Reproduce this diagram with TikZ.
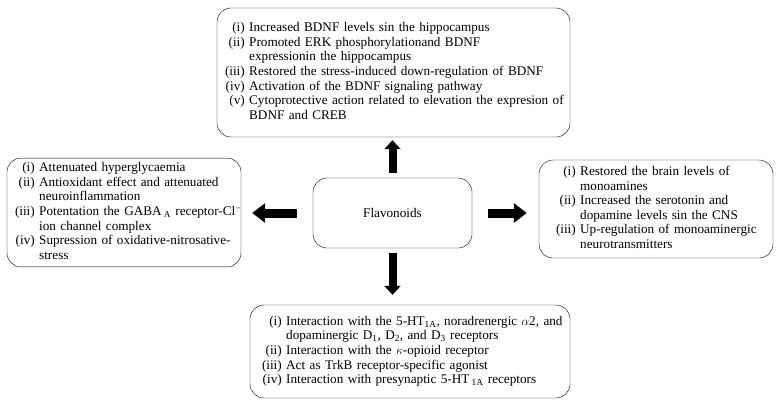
\documentclass[tikz,border=0pt]{standalone}
\usepackage{fontspec}
\setmainfont{Liberation Serif}
\usetikzlibrary{arrows.meta}

\tikzset{
  effbox/.style={draw, rounded corners=14pt, align=left,
    font=\fontsize{13.2}{14.6}\selectfont},
  bigarrow/.style={line width=9pt, -{Triangle[width=19pt,length=13pt]}},
  vbigarrow/.style={line width=8pt, -{Triangle[width=16pt,length=9pt]}},
}

\begin{document}
\begin{tikzpicture}[x=1pt,y=-1pt]
\useasboundingbox (0,0) rectangle (782,408);

\node[draw, rounded corners=14pt, minimum width=159pt, minimum height=70pt,
  font=\fontsize{13.2}{14.6}\selectfont] (flav) at (392.5,213) {Flavonoids};

% top: BDNF
\node[effbox, inner xsep=8pt, text width=337pt, minimum height=129pt] (bdnf) at (393.5,72.5) {%
\begin{tabular}{@{}r@{\ }l@{}}
(i) & Increased BDNF levels sin the hippocampus\\
(ii) & Promoted ERK phosphorylationand BDNF\\
 & expressionin the hippocampus\\
(iii) & Restored the stress-induced down-regulation of BDNF\\
(iv) & Activation of the BDNF signaling pathway\\
(v) & Cytoprotective action related to elevation the expresion of\\
 & BDNF and CREB
\end{tabular}};

% left: GABA
\node[effbox, inner xsep=8pt, text width=218pt, minimum height=105pt] (gaba) at (124,212.5) {%
\begin{tabular}{@{}r@{\ }l@{}}
(i) & Attenuated hyperglycaemia\\
(ii) & Antioxidant effect and attenuated\\
 & neuroinflammation\\
(iii) & Potentation the GABA\,\textsubscript{A} receptor-Cl\textsuperscript{−}\\
 & ion channel complex\\
(iv) & Supression of oxidative-nitrosative-\\
 & stress
\end{tabular}};

% right: monoamines
\node[effbox, inner xsep=17pt, text width=200pt, minimum height=98pt] (mono) at (656,209) {%
\begin{tabular}{@{}r@{\ }l@{}}
(i) & Restored the brain levels of\\
 & monoamines\\
(ii) & Increased the serotonin and\\
 & dopamine levels sin the CNS\\
(iii) & Up-regulation of monoaminergic\\
 & neurotransmitters
\end{tabular}};

% bottom: receptors
\node[effbox, inner xsep=12pt, text width=296pt, minimum height=93pt] (recep) at (410,351.5) {%
\begin{tabular}{@{}r@{\ }l@{}}
(i) & Interaction with the 5-HT\textsubscript{1A}, noradrenergic $\alpha$2, and\\
 & dopaminergic D\textsubscript{1}, D\textsubscript{2}, and D\textsubscript{3} receptors\\
(ii) & Interaction with the $\kappa$-opioid receptor\\
(iii) & Act as TrkB receptor-specific agonist\\
(iv) & Interaction with presynaptic 5-HT\,\textsubscript{1A} receptors
\end{tabular}};

\draw[vbigarrow, shorten <=5pt, shorten >=3pt] (flav.north) -- (flav.north |- bdnf.south);
\draw[bigarrow, shorten <=16pt, shorten >=11pt] (flav.west) -- (flav.west -| gaba.east);
\draw[bigarrow, shorten <=16pt, shorten >=12pt] (flav.east) -- (flav.east -| mono.west);
\draw[vbigarrow, shorten <=5pt, shorten >=10pt] (flav.south) -- (flav.south |- recep.north);
\end{tikzpicture}
\end{document}
